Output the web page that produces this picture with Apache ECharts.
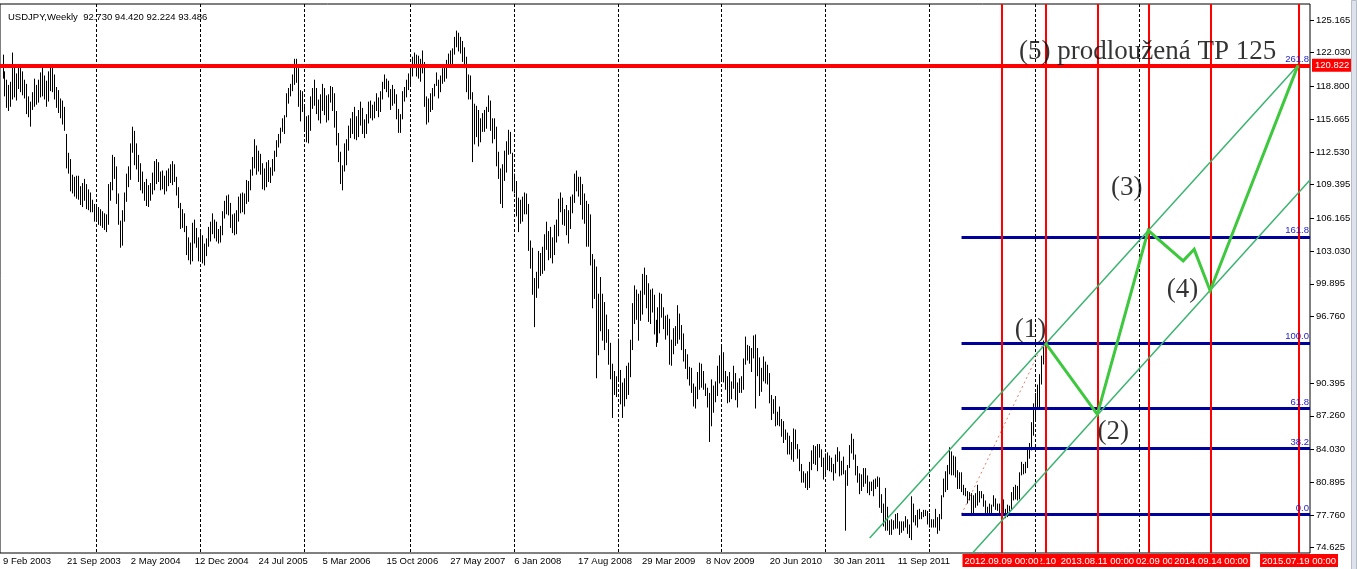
<!DOCTYPE html>
<html><head><meta charset="utf-8">
<script src="https://cdn.jsdelivr.net/npm/echarts@6/dist/echarts.min.js"></script>
<style>html,body{margin:0;padding:0;background:#fff;}#c{width:1357px;height:569px;}</style>
</head><body><div id="c"></div>
<script>
// ---------- DATA ----------
const symbolName = 'USDJPY';
const timeframe = 'Weekly';
const lastOHLC = ['92.730', '94.420', '92.224', '93.486'];
const firstWeek = '2003.02.09';

// weekly [low, high] per year (first bar = week of 9 Feb 2003)
const y2003 = [[119.6,121.8],[117.9,120.2],[116.8,119.4],[116.5,118.9],[116.9,119.2],[117.6,122.0],[117.8,120.9],[117.5,120.0],[118.6,120.8],[118.3,120.6],
[118.0,120.2],[117.7,119.4],[116.2,119.0],[115.9,117.8],[115.0,117.3],[116.6,118.2],[116.9,119.5],[117.1,118.9],[117.3,119.4],[117.8,120.1],
[117.9,120.6],[117.6,119.8],[116.9,119.3],[117.4,120.2],[118.4,120.7],[118.3,120.7],[117.6,119.9],[116.8,118.7],[116.3,118.4],[115.8,117.6],
[115.2,117.4],[114.6,116.8],[111.0,114.2],[110.5,112.4],[108.8,111.8],[108.6,110.3],[108.3,110.1],[108.1,110.2],[108.0,110.2],[107.5,109.2],
[107.3,109.5],[107.9,109.9],[107.1,109.4],[107.0,108.9],[106.8,108.6],[106.8,107.9],[105.9,107.5]];
const y2004 = [[105.9,107.5],[105.6,107.2],[105.5,107.0],[105.3,106.8],[105.1,106.6],[104.9,106.5],[105.6,109.4],[107.9,109.6],[108.9,112.2],[110.0,112.0],
[107.6,111.1],[105.6,108.5],[103.4,105.9],[103.6,106.9],[105.9,108.6],[107.8,110.4],[109.2,111.1],[109.9,113.3],[112.5,114.9],[111.3,114.5],
[110.9,113.3],[109.7,112.2],[108.9,111.4],[108.6,110.6],[107.9,109.6],[107.4,109.9],[107.3,109.3],[107.9,109.5],[108.5,110.5],[108.9,111.6],
[109.5,111.8],[109.7,111.5],[108.9,110.6],[109.0,110.7],[108.5,110.2],[108.8,110.7],[109.3,110.9],[109.6,111.3],[109.4,111.6],[109.7,111.3],
[108.4,110.1],[107.2,109.1],[105.2,107.6],[105.3,107.0],[104.9,106.6],[102.7,105.4],[102.2,104.3],[101.8,103.8],[102.1,105.7],[103.8,106.0],
[103.4,105.2],[102.1,104.3]];
const y2005 = [[102.1,104.8],[101.9,104.5],[101.7,103.7],[102.6,104.2],[103.5,105.3],[104.0,105.8],[104.7,106.6],[104.3,106.0],[104.0,105.8],[103.8,105.1],
[103.9,105.4],[104.6,106.8],[106.2,107.8],[106.6,108.3],[106.5,108.4],[105.3,107.6],[104.8,106.5],[104.6,106.6],[104.7,106.9],[105.9,108.2],
[106.7,108.5],[106.8,108.6],[106.6,108.5],[107.6,109.8],[107.8,109.7],[108.9,110.8],[110.3,112.0],[111.0,113.7],[110.4,113.1],[110.7,112.6],
[110.4,112.3],[109.0,111.4],[108.9,110.9],[109.2,111.5],[109.7,111.7],[109.6,111.0],[110.3,111.8],[110.7,112.6],[112.1,113.6],[113.0,114.2],
[113.4,114.8],[114.5,115.7],[114.3,116.0],[115.9,118.1],[117.2,118.6],[117.9,119.0],[118.4,119.9],[119.0,121.4],[119.2,121.4],[116.9,120.5],
[115.5,118.4],[116.4,118.3]];
const y2006 = [[114.5,117.0],[113.5,115.9],[113.4,116.0],[114.6,117.8],[116.7,118.6],[117.0,119.4],[116.2,118.6],[115.6,117.5],[115.3,118.0],[116.5,119.0],
[116.1,118.6],[115.4,117.9],[115.6,118.0],[117.3,118.8],[116.5,118.7],[114.9,118.1],[113.2,116.4],[111.6,114.3],[109.5,112.5],[108.9,111.2],
[110.7,113.3],[111.3,113.7],[112.7,115.0],[113.9,115.7],[114.3,116.3],[113.8,116.8],[113.7,115.9],[114.0,116.5],[115.1,117.3],[114.3,116.7],
[113.9,115.6],[114.3,116.1],[115.3,117.3],[115.8,117.4],[115.6,117.0],[115.8,117.3],[116.5,118.1],[115.9,117.7],[116.4,118.3],[117.6,119.2],
[118.6,119.9],[118.3,119.5],[117.8,119.3],[116.6,118.5],[117.0,118.9],[117.2,118.5],[115.7,118.0],[114.4,116.6],[114.4,116.1],[115.7,118.3],
[117.4,118.7],[117.8,119.4],[118.5,120.0]];
const y2007 = [[118.8,120.8],[119.8,121.6],[120.6,122.0],[119.8,121.8],[119.6,121.7],[119.3,121.4],[120.1,122.2],[116.9,121.1],[115.2,117.8],[115.4,117.6],
[116.4,118.1],[116.6,118.6],[117.9,119.0],[118.9,120.1],[117.7,119.4],[118.3,119.8],[119.1,120.5],[119.3,120.7],[119.6,121.3],[120.9,121.9],
[120.8,122.2],[120.8,122.4],[121.9,123.5],[122.6,124.1],[122.2,123.9],[122.0,123.5],[121.2,123.1],[120.6,122.5],[118.3,121.6],[117.6,119.9],
[117.6,119.8],[111.6,118.2],[113.3,117.1],[114.0,116.9],[113.1,116.5],[113.5,115.7],[114.5,116.2],[114.5,116.5],[114.8,116.8],[116.4,117.9],
[114.6,117.4],[113.4,115.7],[113.8,115.7],[111.2,114.9],[110.0,112.5],[107.6,110.9],[107.2,111.3],[109.8,112.6],[110.6,113.5],[112.3,114.6],
[112.4,114.4],[108.8,112.4]];
const y2008 = [[108.6,110.4],[106.4,109.7],[104.9,108.1],[105.7,107.9],[105.9,108.2],[106.6,108.6],[106.6,108.5],[103.1,107.5],[101.4,104.0],[98.9,103.3],
[95.8,100.4],[98.6,101.0],[99.5,103.0],[100.7,102.8],[100.9,103.4],[101.2,104.6],[103.2,105.8],[102.2,104.9],[102.4,105.3],[101.9,104.3],
[102.7,105.5],[103.9,106.0],[104.5,108.0],[106.8,108.6],[105.6,108.1],[105.5,107.0],[104.6,107.4],[103.8,106.9],[105.2,108.2],[106.7,108.4],
[107.7,110.4],[108.8,110.7],[108.3,110.1],[107.5,110.1],[106.1,109.4],[105.7,108.5],[103.5,107.8],[103.5,107.5],[101.7,106.5],[97.6,102.7],
[98.5,102.2],[90.9,101.5],[93.1,98.9],[95.4,100.5],[94.5,98.9],[93.6,98.1],[94.3,96.9],[92.2,95.5],[90.8,94.2],[87.1,92.2],
[89.3,91.5],[89.1,91.0]];
const y2009 = [[90.6,94.6],[88.4,91.6],[87.1,90.4],[88.2,90.8],[88.9,92.0],[89.3,92.3],[91.0,94.5],[93.6,98.0],[96.1,99.7],[96.5,99.3],
[94.5,98.9],[96.4,99.2],[97.0,100.8],[98.9,101.4],[97.6,100.7],[96.3,99.9],[96.1,99.3],[97.2,99.4],[95.1,98.8],[93.9,96.4],
[94.3,97.6],[95.2,99.0],[96.7,98.9],[95.6,97.6],[94.6,96.8],[95.0,96.9],[92.2,96.5],[92.1,94.5],[93.2,95.6],[94.0,95.8],
[94.2,97.8],[94.6,97.0],[93.6,95.9],[92.5,95.1],[91.8,93.6],[90.8,93.1],[90.2,91.9],[89.5,91.8],[88.2,90.3],[88.0,90.0],
[88.9,91.4],[89.8,92.3],[90.0,92.2],[89.8,91.5],[89.2,90.3],[88.1,89.9],[84.8,89.4],[86.3,90.7],[87.6,90.1],[88.6,90.5],
[89.2,92.0],[90.4,93.0]];
const y2010 = [[90.7,93.8],[90.5,93.3],[89.8,91.5],[88.5,91.0],[88.6,91.4],[88.9,90.5],[89.9,92.0],[88.8,91.3],[88.1,90.4],[89.5,90.8],
[89.5,91.0],[89.8,92.7],[92.2,94.8],[92.6,94.0],[92.3,93.9],[91.5,93.7],[92.8,94.9],[88.0,95.0],[91.1,93.7],[89.2,92.8],
[89.6,91.8],[90.6,92.9],[90.4,92.4],[90.3,92.1],[88.5,91.3],[86.9,89.2],[87.5,88.8],[86.3,89.1],[86.4,87.6],[86.3,88.1],
[85.3,86.9],[84.7,86.7],[85.0,85.9],[83.6,85.6],[83.6,85.3],[83.1,84.7],[82.9,86.0],[84.1,85.9],[83.2,84.5],[82.0,84.0],
[80.9,82.6],[80.9,81.9],[80.4,81.7],[80.2,81.9],[80.4,82.8],[82.1,83.9],[82.7,84.4],[82.6,84.3],[82.0,84.5],[83.3,84.5],
[82.4,84.0],[81.2,83.2]];
const y2011 = [[81.5,83.6],[82.1,83.7],[82.0,83.4],[81.9,83.2],[81.1,82.6],[81.8,83.5],[82.9,84.2],[81.5,83.8],[81.6,82.9],[81.7,83.3],
[76.3,82.0],[80.6,82.5],[82.3,84.4],[83.7,85.5],[83.1,85.0],[81.6,83.5],[80.9,82.4],[79.8,81.7],[80.1,81.6],[80.5,82.2],
[80.8,82.2],[79.9,81.5],[79.7,80.9],[80.1,80.9],[79.6,81.1],[80.3,81.2],[80.5,81.4],[78.5,81.3],[78.0,79.7],[76.7,78.8],
[76.3,80.3],[76.3,78.5],[75.9,77.2],[75.9,77.3],[76.4,77.2],[76.5,77.8],[76.5,77.9],[75.9,77.1],[76.1,77.1],[76.3,77.1],
[76.6,77.6],[76.0,77.3],[75.6,76.8],[75.4,79.5],[77.1,78.8],[76.8,77.7],[76.6,78.2],[77.4,78.3],[77.4,78.0],[77.6,78.2],
[77.7,78.2],[76.9,78.1]];
const y2012 = [[76.6,77.9],[76.6,77.3],[76.6,77.3],[76.6,78.3],[76.0,77.5],[76.3,77.8],[77.4,79.6],[79.5,81.2],[80.0,81.9],[80.2,82.5],
[81.7,84.2],[81.6,83.8],[81.6,83.4],[81.4,83.3],[80.3,82.0],[80.3,81.8],[80.0,81.8],[79.7,80.6],[79.6,80.3],[78.9,80.0],
[79.2,79.9],[77.7,79.8],[77.8,79.6],[78.5,79.8],[78.7,80.6],[79.0,80.0],[79.4,80.0],[78.6,79.7],[78.0,79.1],[77.9,78.5],
[77.9,78.8],[78.0,78.7],[78.6,79.6],[78.3,79.3],[78.2,78.8],[78.0,78.8],[77.1,78.4],[78.0,79.2],[77.5,78.3],[77.6,78.7],
[77.9,78.6],[78.3,79.9],[79.2,80.4],[79.3,80.6],[79.2,80.5],[79.3,81.8],[81.6,82.8],[81.7,82.6],[81.8,82.8],[82.3,84.1],
[83.2,84.6],[84.0,86.6],[85.4,88.4]];
const y2013 = [[86.8,89.4],[88.1,90.2],[88.1,91.2],[90.3,92.97],[92.224,94.42]];

// bottom axis labels (one every 32 weeks)
const xTickLabels = ['9 Feb 2003','21 Sep 2003','2 May 2004','12 Dec 2004','24 Jul 2005','5 Mar 2006','15 Oct 2006','27 May 2007',
  '6 Jan 2008','17 Aug 2008','29 Mar 2009','8 Nov 2009','20 Jun 2010','30 Jan 2011','11 Sep 2011'];
const xTickStep = 32;
// right price-axis labels
const yTickValues = [74.625,77.760,80.895,84.030,87.260,90.395,96.760,99.895,103.030,106.165,109.395,112.530,115.665,118.800,122.030,125.165];
const gridYears = [2004,2005,2006,2007,2008,2009,2010,2011,2012,2013,2014];

// Fibonacci retracement
const fibLevels = [0, 38.2, 61.8, 100, 161.8, 261.8];
const fibAnchorWeeks = [480, 521];
const fibAnchorPrices = [77.83, 94.25];

// red vertical lines (bottom labels)
const vLinesUnder = ['2013.02.10 00:00', '2014.02.09 00:00'];
const vLinesOver  = ['2012.09.09 00:00', '2013.08.11 00:00', '2014.09.14 00:00', '2015.07.19 00:00'];
const targetPrice = 120.822;

// channel lines [week, price]
const upperChannel = [[434, 75.55], [648.5, 120.82]];
const lowerChannel = [[485.5, 74.12], [654.5, 109.84]];
// projected wave path
const waveWeeks  = [522, 548, 573.5, 591, 596.5, 604.5, 648.5];
const wavePrices = [94.25, 87.4, 105.0, 102.1, 103.2, 99.24, 120.82];
// annotations [week, price, text]
const notes = [[514.5, 95.47, '(1)'], [556, 85.75, '(2)'], [562.7, 109.05, '(3)'], [590.7, 99.33, '(4)'], [573.2, 122.1, '(5) prodloužená TP 125']];

// ---------- BUILD ----------
const MS_WEEK = 7 * 24 * 3600 * 1000;
function parseD(s) { const p = s.split(/[.\- :]/); return Date.UTC(+p[0], +p[1] - 1, +p[2]); }
const t0 = parseD(firstWeek);
function weekOf(s) { return Math.round((parseD(s) - t0) / MS_WEEK); }
const ranges = [].concat(y2003, y2004, y2005, y2006, y2007, y2008, y2009, y2010, y2011, y2012, y2013);
const barData = ranges.map((r, i) => [i, r[0], r[1]]);
const gridWeeks = gridYears.map(y => Math.ceil((Date.UTC(y, 0, 1) - t0) / MS_WEEK));
const X_MIN = -1.5, X_MAX = 654.5, Y_MIN = 74.117, Y_MAX = 126.697;
const FONT = 'Liberation Sans';
const fibRange = fibAnchorPrices[1] - fibAnchorPrices[0];

const chart = echarts.init(document.getElementById('c'), null, { renderer: 'canvas' });

function vLineSeries(list, z) {
  return {
    type: 'line', data: [], z: z, silent: true,
    markLine: {
      symbol: 'none', silent: true, animation: false,
      lineStyle: { color: '#ff0000', width: 2, type: 'solid' },
      label: {
        show: true, position: 'start', distance: 1, formatter: '{b}',
        color: '#fff', backgroundColor: '#ff0000', padding: [2, 2, 1, 2],
        fontFamily: FONT, fontSize: 9.5
      },
      data: list.map(d => ({ name: d, xAxis: weekOf(d) }))
    }
  };
}

const option = {
  animation: false,
  backgroundColor: '#fff',
  title: {
    text: symbolName + ',' + timeframe + '  ' + lastOHLC.join(' '),
    left: 3, top: 7,
    textStyle: { fontFamily: FONT, fontSize: 9.5, fontWeight: 'normal', color: '#000' }
  },
  graphic: [
    { type: 'rect', right: 0, top: 0, z: 100, shape: { width: 5, height: 569 },
      style: { fill: '#dde3ec', stroke: '#b8bcc4', lineWidth: 1 } }
  ],
  grid: { left: -2, right: 47, top: 4, bottom: 16, show: true, borderColor: '#000', borderWidth: 1, backgroundColor: '#fff' },
  xAxis: {
    type: 'value', min: X_MIN, max: X_MAX,
    axisLine: { show: false, onZero: false },
    axisTick: { show: false },
    splitLine: { show: false },
    axisLabel: {
      customValues: xTickLabels.map((_, i) => i * xTickStep),
      formatter: v => xTickLabels[Math.round(v / xTickStep)] || '',
      align: 'left', margin: 3, color: '#000', fontFamily: FONT, fontSize: 9.5
    }
  },
  yAxis: {
    type: 'value', position: 'right', min: Y_MIN, max: Y_MAX,
    axisLine: { show: false, onZero: false },
    splitLine: { show: false },
    axisTick: { show: true, customValues: yTickValues, length: 4, lineStyle: { color: '#000' } },
    axisLabel: {
      customValues: yTickValues, formatter: v => v.toFixed(3),
      margin: 6, color: '#000', fontFamily: FONT, fontSize: 9.5
    }
  },
  series: [
    { // yearly dotted grid
      type: 'custom', z: 1, silent: true,
      data: gridWeeks.map(w => [w]),
      encode: { x: 0 },
      renderItem: function (params, api) {
        const p = api.coord([api.value(0), Y_MIN]);
        const cs = params.coordSys;
        const x = Math.floor(p[0]) + 0.5;
        return { type: 'line', shape: { x1: x, y1: cs.y, x2: x, y2: cs.y + cs.height },
          style: { stroke: '#000', lineWidth: 1, lineDash: [3, 2] } };
      }
    },
    { // weekly bars
      type: 'custom', z: 2, silent: true,
      data: barData,
      encode: { x: 0, y: [1, 2] },
      renderItem: function (params, api) {
        const lo = api.coord([api.value(0), api.value(1)]);
        const hi = api.coord([api.value(0), api.value(2)]);
        const x = Math.floor(lo[0]) + 0.5;
        return { type: 'line', shape: { x1: x, y1: lo[1] + 0.5, x2: x, y2: hi[1] - 0.5 },
          style: { stroke: '#000', lineWidth: 1 } };
      }
    },
    { // fib trend (dotted) + levels
      type: 'line', z: 3, silent: true, symbol: 'none',
      data: fibAnchorWeeks.map((w, i) => [w, fibAnchorPrices[i]]),
      lineStyle: { color: '#e0806c', width: 1, type: [2, 3] },
      markLine: {
        symbol: 'none', silent: true, animation: false,
        lineStyle: { color: '#00009a', width: 3, type: 'solid' },
        label: { show: true, position: 'insideEndTop', distance: [1, 1], formatter: '{b}',
          color: '#1c1cc8', fontFamily: FONT, fontSize: 9.5 },
        data: fibLevels.map(l => {
          const price = fibAnchorPrices[0] + fibRange * l / 100;
          return [{ name: l.toFixed(1), coord: [fibAnchorWeeks[0], price] }, { coord: [X_MAX, price] }];
        })
      }
    },
    vLineSeries(vLinesUnder, 4),
    vLineSeries(vLinesOver, 5),
    { // target line + price label
      type: 'line', data: [], z: 6, silent: true,
      markLine: {
        symbol: 'none', silent: true, animation: false,
        data: [
          { yAxis: targetPrice, name: targetPrice.toFixed(3),
            lineStyle: { color: '#ff0000', width: 4, type: 'solid' },
            label: { show: true, position: 'end', distance: 2, formatter: '{b}', color: '#fff',
              backgroundColor: '#ff0000', padding: [2, 3, 1, 3], fontFamily: FONT, fontSize: 9.5 } },
          { yAxis: +lastOHLC[3], name: lastOHLC[3],
            lineStyle: { color: '#000', width: 0, opacity: 0 },
            label: { show: true, position: 'end', distance: 2, formatter: '{b}', color: '#fff',
              backgroundColor: '#000', padding: [2, 3, 1, 3], fontFamily: FONT, fontSize: 9.5 } }
        ]
      }
    },
    { type: 'line', z: 7, silent: true, symbol: 'none', data: upperChannel,
      lineStyle: { color: '#3cb371', width: 1.5 } },
    { type: 'line', z: 7, silent: true, symbol: 'none', data: lowerChannel,
      lineStyle: { color: '#3cb371', width: 1.5 } },
    { type: 'line', z: 8, silent: true, symbol: 'none',
      data: waveWeeks.map((w, i) => [w, wavePrices[i]]),
      lineStyle: { color: '#3ec83e', width: 3, join: 'miter' } },
    { type: 'scatter', z: 9, silent: true, symbolSize: 1,
      itemStyle: { color: 'rgba(0,0,0,0)' },
      data: notes,
      label: { show: true, position: 'inside', formatter: p => p.value[2],
        color: '#000', fontFamily: 'Liberation Serif', fontSize: 27 } }
  ]
};
chart.setOption(option);
</script>
</body></html>
